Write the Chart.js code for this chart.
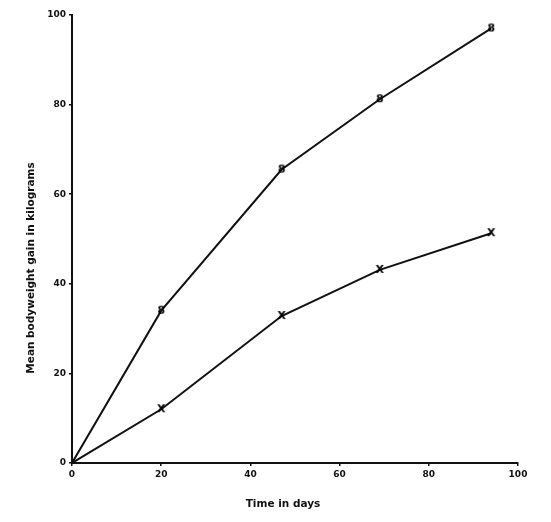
<!DOCTYPE html>
<html>
<head>
<meta charset="utf-8">
<script src="https://cdn.jsdelivr.net/npm/chart.js@4"></script>
<style>
html,body{margin:0;padding:0;background:#fff;}
canvas{display:block;}
</style>
</head>
<body>
<canvas id="c" width="551" height="522"></canvas>
<script>
// Data
const daysA = [0, 20, 47, 69, 94];
const gainA = [0, 34, 65.5, 81.2, 97];
const daysB = [0, 20, 47, 69, 94];
const gainB = [0, 12, 32.8, 43.1, 51.3];
const xTicks = [0, 20, 40, 60, 80, 100];
const yTicks = [0, 20, 40, 60, 80, 100];
const xTitle = 'Time in days';
const yTitle = 'Mean bodyweight gain in kilograms';
const markerA = '8';
const markerB = 'X';

function glyph(ch) {
  const c = document.createElement('canvas');
  c.width = 12; c.height = 14;
  const g = c.getContext('2d');
  g.fillStyle = '#000';
  g.font = 'bold 11px "DejaVu Sans"';
  g.textAlign = 'center';
  g.textBaseline = 'middle';
  g.fillText(ch, 6, 7.5);
  return c;
}
const gA = glyph(markerA);
const gB = glyph(markerB);

const toPts = (xs, ys) => xs.map((x, i) => ({x, y: ys[i]}));

const titlePlugin = {
  id: 'axisTitles',
  afterDraw(chart) {
    const ctx = chart.ctx;
    ctx.save();
    ctx.fillStyle = '#111';
    ctx.font = 'bold 10.5px "DejaVu Sans"';
    ctx.textAlign = 'center';
    ctx.textBaseline = 'middle';
    ctx.fillText(xTitle, 283, 504);
    ctx.translate(31, 268);
    ctx.rotate(-Math.PI / 2);
    ctx.fillText(yTitle, 0, 0);
    ctx.restore();
  }
};

const bg = {
  id: 'bg',
  beforeDraw(chart) {
    const ctx = chart.ctx;
    ctx.save();
    ctx.fillStyle = '#fff';
    ctx.fillRect(0, 0, chart.width, chart.height);
    ctx.restore();
  }
};

const tickFont = {family: 'DejaVu Sans', size: 9, weight: 'bold'};

new Chart(document.getElementById('c'), {
  type: 'line',
  data: {
    datasets: [
      {
        data: toPts(daysA, gainA),
        borderColor: '#111',
        borderWidth: 2,
        pointStyle: gA,
        pointRadius: daysA.map((d, i) => i === 0 ? 0 : 4),
        tension: 0
      },
      {
        data: toPts(daysB, gainB),
        borderColor: '#111',
        borderWidth: 2,
        pointStyle: gB,
        pointRadius: daysB.map((d, i) => i === 0 ? 0 : 4),
        tension: 0
      }
    ]
  },
  options: {
    responsive: false,
    animation: false,
    events: [],
    layout: {padding: {top: 15, right: 33, left: 0, bottom: 0}},
    plugins: {legend: {display: false}, tooltip: {enabled: false}},
    scales: {
      x: {
        type: 'linear',
        min: 0, max: 100,
        afterFit(s) { s.height = 59; },
        afterBuildTicks(s) { s.ticks = xTicks.map(v => ({value: v})); },
        border: {display: true, color: '#111', width: 2},
        grid: {display: true, drawOnChartArea: false, drawTicks: true, tickLength: 3, color: '#111', lineWidth: 1.5},
        ticks: {color: '#111', font: tickFont, padding: 3, maxRotation: 0}
      },
      y: {
        type: 'linear',
        min: 0, max: 100,
        afterFit(s) { s.width = 72; },
        afterBuildTicks(s) { s.ticks = yTicks.map(v => ({value: v})); },
        border: {display: true, color: '#111', width: 2},
        grid: {display: true, drawOnChartArea: false, drawTicks: true, tickLength: 3, color: '#111', lineWidth: 1.5},
        ticks: {color: '#111', font: tickFont, padding: 3}
      }
    }
  },
  plugins: [bg, titlePlugin]
});
</script>
</body>
</html>
